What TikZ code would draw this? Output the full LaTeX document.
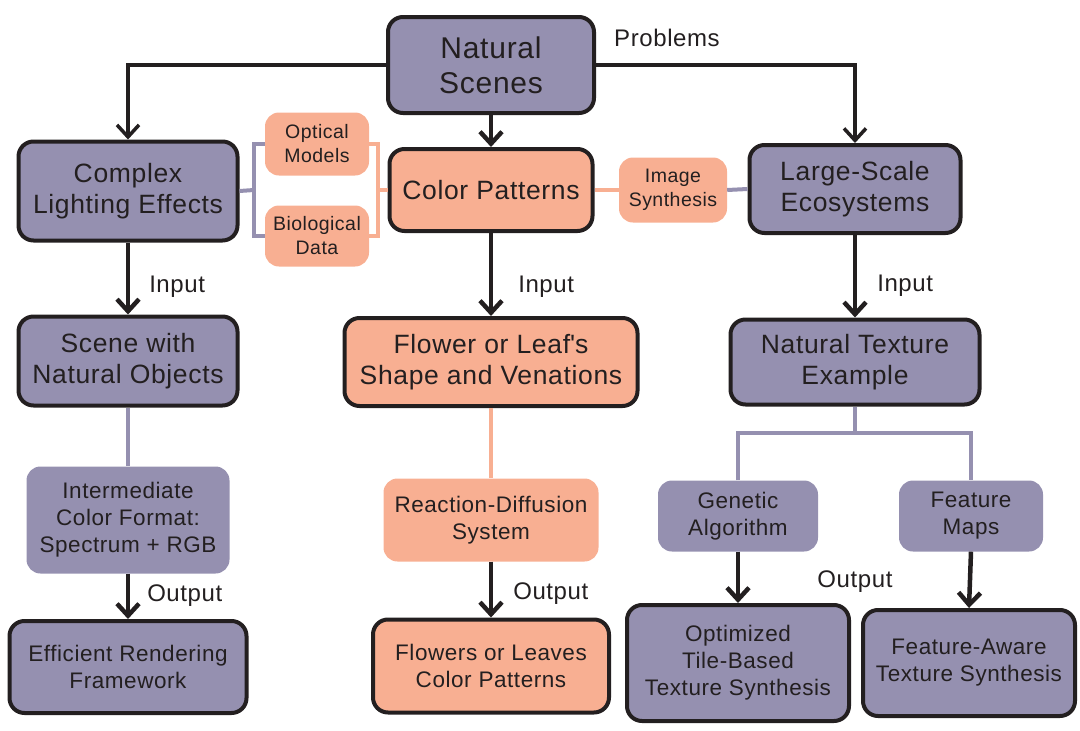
\documentclass[tikz,border=0pt]{standalone}
\usepackage{fontspec}
\setmainfont{Liberation Sans}[LetterSpace=2.5]
\usetikzlibrary{arrows.meta}

\definecolor{lav}{HTML}{9590B0}
\definecolor{salmon}{HTML}{F8AF92}
\definecolor{ink}{HTML}{231F20}

\tikzset{
  box/.style={draw=ink, line width=4pt, rounded corners=15pt, align=center, inner sep=0pt, text=ink},
  lavbox/.style={box, fill=lav},
  salbox/.style={box, fill=salmon},
  soft/.style={rounded corners=14pt, align=center, inner sep=0pt, text=ink},
  lavsoft/.style={soft, fill=lav},
  salsoft/.style={soft, fill=salmon},
  huge/.style={font=\fontsize{30}{35}\selectfont},
  big/.style={font=\fontsize{26.5}{31}\selectfont},
  mid/.style={font=\fontsize{22.5}{27}\selectfont},
  small/.style={font=\fontsize{19.5}{24}\selectfont},
  lbl/.style={font=\fontsize{24}{28}\selectfont, text=ink, inner sep=0pt},
  flow/.style={->, draw=ink, line width=4.5pt},
  branch/.style={->, draw=ink, line width=3.5pt},
  lavlink/.style={draw=lav, line width=4pt},
  sallink/.style={draw=salmon, line width=4pt}
}

\begin{document}
\begin{tikzpicture}[x=1pt, y=-1pt, >={Straight Barb[length=12pt,width=22pt]}]
  \useasboundingbox (0,0) rectangle (1080,731);

  % problems
  \node[lavbox, huge, minimum width=206, minimum height=96] (ns) at (491,65) {Natural\\Scenes};
  \node[lbl] (prob) at (667,38) {Problems};
  \node[lavbox, big, minimum width=219, minimum height=99] (cle) at (128,191) {Complex\\Lighting Effects};
  \node[salbox, big, minimum width=203, minimum height=82] (cp) at (491,190) {Color Patterns};
  \node[lavbox, big, minimum width=211, minimum height=88] (lse) at (855,189) {Large-Scale\\Ecosystems};
  \node[salsoft, small, minimum width=104, minimum height=63] (om) at (317,144) {Optical\\Models};
  \node[salsoft, small, minimum width=104, minimum height=61] (bd) at (317,236) {Biological\\Data};
  \node[salsoft, small, minimum width=108, minimum height=65] (is) at (673,190) {Image\\Synthesis};

  % inputs
  \node[lavbox, big, minimum width=219, minimum height=89] (sno) at (128,361) {Scene with\\Natural Objects};
  \node[salbox, big, minimum width=293, minimum height=88] (fls) at (491,362) {Flower or Leaf\textquotesingle s\\Shape and Venations};
  \node[lavbox, big, minimum width=249, minimum height=85] (nte) at (855,362) {Natural Texture\\Example};

  % methods
  \node[lavsoft, mid, minimum width=203, minimum height=107] (icf) at (128,520) {Intermediate\\Color Format:\\Spectrum + RGB};
  \node[salsoft, mid, minimum width=215, minimum height=83] (rds) at (491,520) {Reaction-Diffusion\\System};
  \node[lavsoft, mid, minimum width=160, minimum height=71] (ga) at (738,516) {Genetic\\Algorithm};
  \node[lavsoft, mid, minimum width=144, minimum height=71] (fm) at (971,516) {Feature\\Maps};

  % outputs
  \node[lavbox, mid, minimum width=237, minimum height=92] (erf) at (128,667) {Efficient Rendering\\Framework};
  \node[salbox, mid, minimum width=236, minimum height=93] (flc) at (491,666) {Flowers or Leaves\\Color Patterns};
  \node[lavbox, mid, minimum width=222, minimum height=116] (ots) at (738,663) {Optimized\\Tile-Based\\Texture Synthesis};
  \node[lavbox, mid, minimum width=212, minimum height=106] (fat) at (969,663) {Feature-Aware\\Texture Synthesis};
  \node[lbl] (outR) at (855,582) {Output};

  \coordinate (lbrk) at (254,190);
  \coordinate (rbrk) at (378,190);
  \coordinate (tj) at (855,433);

  % links
  \draw[lavlink] (cle.east) -- (lbrk);
  \draw[lavlink] (om.west) -| (lbrk) |- (bd.west);
  \draw[sallink] (cp.west) -- (rbrk);
  \draw[sallink] (om.east) -| (rbrk) |- (bd.east);
  \draw[sallink] (cp.east) -- (is.west);
  \draw[lavlink] (is.east) -- (lse.west);
  \draw[lavlink] (sno.south) -- (icf.north);
  \draw[sallink] (fls.south) -- (rds.north);
  \draw[lavlink] (nte.south) -- (tj);
  \draw[lavlink] (ga.north) |- (tj) -| (fm.north);

  % arrows
  \draw[branch] (ns.west) -| (cle.north);
  \draw[branch] (ns.east) -| (lse.north);
  \draw[flow] (ns.south) -- (cp.north);
  \draw[flow] (cle.south) -- node[lbl, right=19pt, pos=0.61] (inL) {Input} (sno.north);
  \draw[flow] (cp.south) -- node[lbl, right=25pt, pos=0.65] (inM) {Input} (fls.north);
  \draw[flow] (lse.south) -- node[lbl, right=20pt, pos=0.62] (inR) {Input} (nte.north);
  \draw[flow] (icf.south) -- node[lbl, right=17pt, pos=0.49] (outL) {Output} (erf.north);
  \draw[flow] (rds.south) -- node[lbl, right=20pt, pos=0.57] (outM) {Output} (flc.north);
  \draw[flow] (ga.south) -- (ots.north);
  \draw[flow] (fm.south) -- (fat.north);
\end{tikzpicture}
\end{document}
